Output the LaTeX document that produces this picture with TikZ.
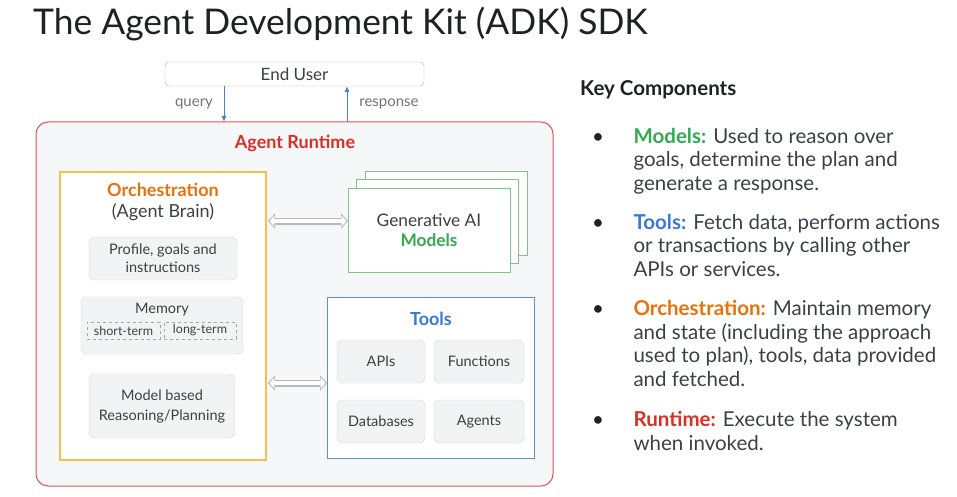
\documentclass[tikz,border=0pt]{standalone}
\usepackage{fontspec}
\setmainfont{Lato}
\usepackage{xcolor}
\usetikzlibrary{arrows.meta, positioning}

\definecolor{txtdark}{HTML}{202124}
\definecolor{txtgray}{HTML}{3C4043}
\definecolor{rtred}{HTML}{D93025}
\definecolor{rtborder}{HTML}{DD5555}
\definecolor{rtfill}{HTML}{F5F7F8}
\definecolor{orchtxt}{HTML}{E8710A}
\definecolor{orchborder}{HTML}{F6C04E}
\definecolor{mdlgreen}{HTML}{34A853}
\definecolor{mdlborder}{HTML}{7CC68C}
\definecolor{tlblue}{HTML}{3C78D8}
\definecolor{tlborder}{HTML}{5B8FD9}
\definecolor{boxgray}{HTML}{D3D6D9}
\definecolor{boxfill}{HTML}{F1F3F4}
\definecolor{arrblue}{HTML}{4A7FD6}

\begin{document}
\begin{tikzpicture}[
    x=1pt, y=-1pt,
    frame/.style={inner sep=0pt, outer sep=0pt},
    box/.style={frame, draw=boxgray, fill=boxfill, rounded corners=6pt, align=center, text=txtgray, font=\fontsize{14.5}{18}\selectfont},
    term/.style={frame, draw=gray!70, dashed, minimum height=17pt, text=txtgray, font=\fontsize{12.5}{14}\selectfont},
    modelbox/.style={frame, draw=mdlborder, line width=1pt, fill=white, minimum width=162pt, minimum height=84pt},
    head/.style={font=\fontsize{18}{21}\selectfont\bfseries},
    arrow/.style={-{Latex[length=6pt, width=5pt]}, draw=arrblue, line width=1pt},
    dblout/.style={draw=gray!55, line width=7pt, {Triangle[length=7pt, width=15pt]}-{Triangle[length=7pt, width=15pt]}},
    dblin/.style={draw=white, line width=4.6pt, shorten <=1.5pt, shorten >=1.5pt, {Triangle[length=4.8pt, width=11pt]}-{Triangle[length=4.8pt, width=11pt]}},
    lbl/.style={font=\fontsize{15}{18}\selectfont, text=gray!90!black},
    bullet/.style={anchor=base west, align=left, text=txtgray, font=\fontsize{20.5}{23.5}\selectfont}
]
\useasboundingbox (0,0) rectangle (957,497);

% --- title ---
\node[anchor=base west, inner sep=0pt, text=txtdark, font=\fontsize{35.4}{40}\selectfont] (title) at (33,35) {The Agent Development Kit (ADK) SDK};

% --- end user ---
\node[frame, draw=gray!60, fill=white, rounded corners=4pt, minimum width=259pt, minimum height=24pt, text=txtgray, font=\fontsize{17}{18}\selectfont] (user) at (294.5,74) {End User};

% --- runtime ---
\node[frame, draw=rtborder, fill=rtfill, line width=1pt, rounded corners=12pt, minimum width=517pt, minimum height=364pt] (runtime) at (294.5,304) {};
\node[head, text=rtred] (rtlbl) at (295,143) {Agent Runtime};

\draw[arrow] ([xshift=-70.5pt]user.south) -- ([xshift=-70.5pt]user.south |- runtime.north);
\draw[arrow] ([xshift=52.5pt]user.south |- runtime.north) -- ([xshift=52.5pt]user.south);
\node[lbl] (qlbl) at (194,104) {query};
\node[lbl] (rlbl) at (389,104) {response};

% --- orchestration ---
\node[frame, draw=orchborder, fill=white, line width=1.2pt, minimum width=206pt, minimum height=288pt] (orch) at (163,316) {};
\node[align=center, font=\fontsize{18}{21}\selectfont, text=txtgray] (orchlbl) at (163,202) {\textcolor{orchtxt}{\bfseries Orchestration}\\(Agent Brain)};
\node[box, minimum width=148pt, minimum height=43pt] (profile) at (163,258.5) {Profile, goals and\\instructions};
\node[box, minimum width=162pt, minimum height=57pt] (memory) at (162,325.5) {};
\node[text=txtgray, font=\fontsize{14.5}{16}\selectfont] (memlbl) at (162,310) {Memory};
\node[term, minimum width=73pt] (short) at (123.5,330.5) {short-term};
\node[term, minimum width=72pt] (long) at (200,330.5) {long-term};
\node[box, minimum width=146pt, minimum height=64pt, font=\fontsize{14.5}{20}\selectfont] (planning) at (162,406) {Model based\\Reasoning/Planning};

% --- models ---
\node[modelbox] (mback) at (446,213) {};
\node[modelbox] (mmid) at (437.5,221.5) {};
\node[modelbox, align=center, text=txtgray, font=\fontsize{17.3}{20}\selectfont] (models) at (429,230) {Generative AI\\\textcolor{mdlgreen}{\bfseries Models}};

% --- tools ---
\node[frame, draw=tlborder, fill=white, line width=1pt, minimum width=207pt, minimum height=161pt] (tools) at (430.5,377.5) {};
\node[head, text=tlblue] (tlbl) at (431,319) {Tools};
\node[box, minimum width=88pt, minimum height=43pt] (apis) at (381,361.5) {APIs};
\node[box, minimum width=90pt, minimum height=43pt] (funcs) at (479,361.5) {Functions};
\node[box, minimum width=88pt, minimum height=43pt] (dbs) at (381,421.5) {Databases};
\node[box, minimum width=90pt, minimum height=43pt] (agents) at (479,421.5) {Agents};

% --- links (hollow double arrows) ---
\draw[dblout] ([xshift=2pt, yshift=9pt]models.west -| orch.east) -- ([yshift=9pt]models.west);
\draw[dblin] ([xshift=2pt, yshift=9pt]models.west -| orch.east) -- ([yshift=9pt]models.west);
\draw[dblout] ([xshift=2pt, yshift=-5.5pt]tools.west -| orch.east) -- ([yshift=-5.5pt]tools.west);
\draw[dblin] ([xshift=2pt, yshift=-5.5pt]tools.west -| orch.east) -- ([yshift=-5.5pt]tools.west);

% --- key components ---
\node[anchor=base west, inner sep=0pt, text=txtdark, font=\fontsize{20.5}{22}\selectfont\bfseries] (keylbl) at (580,96) {Key Components};
\node[bullet] (b1) at (630,190) {\textcolor{mdlgreen}{\bfseries Models:} Used to reason over\\goals, determine the plan and\\generate a response.};
\node[bullet] (b2) at (630,276) {\textcolor{tlblue}{\bfseries Tools:} Fetch data, perform actions\\or transactions by calling other\\APIs or services.};
\node[bullet] (b3) at (630,386) {\textcolor{orchtxt}{\bfseries Orchestration:} Maintain memory\\and state (including the approach\\used to plan), tools, data provided\\and fetched.};
\node[bullet] (b4) at (630,450) {\textcolor{rtred}{\bfseries Runtime:} Execute the system\\when invoked.};
\foreach \y in {144,229,315,426}
  \node[anchor=base, text=txtdark, font=\fontsize{20.5}{23.5}\selectfont] at (598,\y) {\textbullet};
\end{tikzpicture}
\end{document}
